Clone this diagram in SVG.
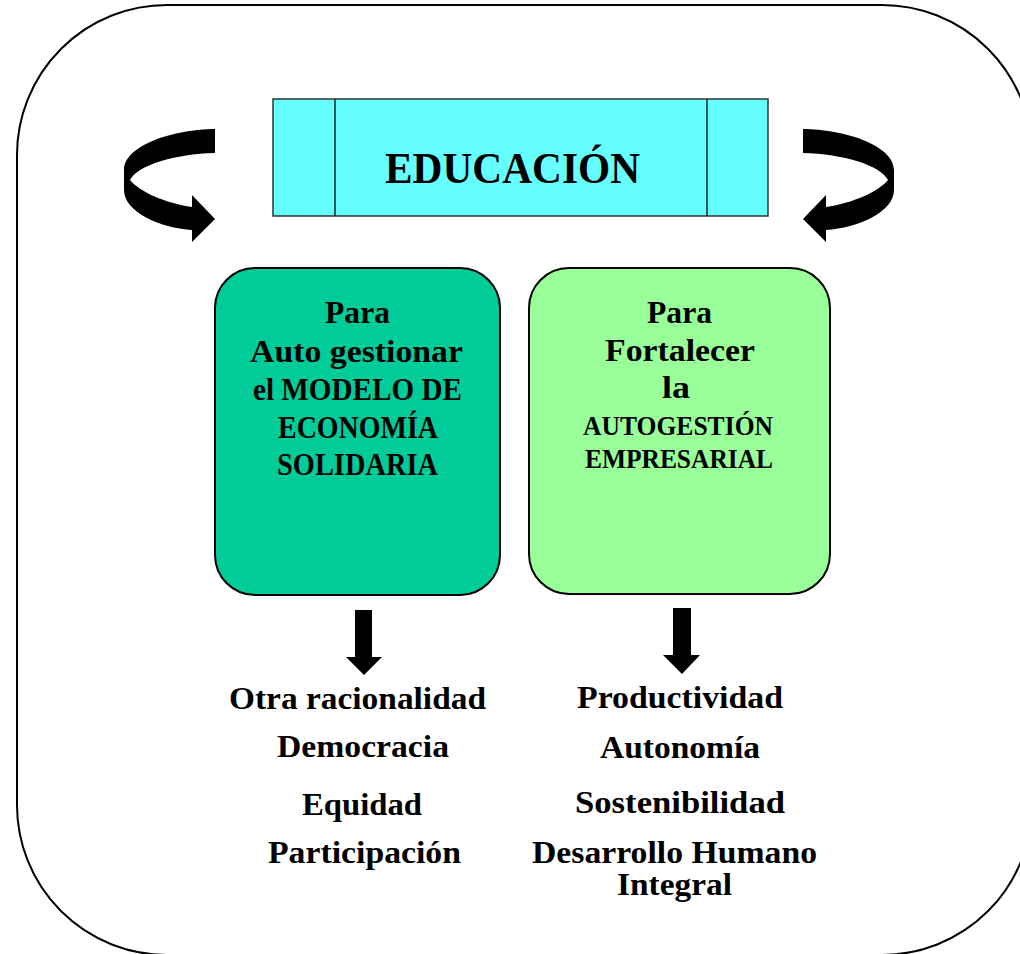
<svg xmlns="http://www.w3.org/2000/svg" width="1020" height="954" viewBox="0 0 1020 954">
<style>
.t{font-family:"Liberation Serif","Times New Roman",serif;font-weight:bold;fill:#000;text-anchor:middle}
.l{font-size:32px}
.b{font-size:31px}
.s{font-size:27px}
.box{stroke:#000;stroke-width:2}
.arr{fill:#000}
</style>
<rect width="1020" height="954" fill="#fff"/>
<g id="frame">
<rect x="17" y="5" width="1015" height="950" rx="150" ry="150" fill="none" stroke="#000" stroke-width="2"/>
</g>
<g id="educacion">
<rect x="273" y="99" width="495" height="117" fill="#66FFFF" stroke="#333" stroke-width="1.5"/>
<line x1="335" y1="99" x2="335" y2="216" stroke="#222" stroke-width="1.5"/>
<line x1="707" y1="99" x2="707" y2="216" stroke="#222" stroke-width="1.5"/>
<text class="t" x="512.5" y="183" font-size="45" textLength="255" lengthAdjust="spacingAndGlyphs">EDUCACIÓN</text>
</g>
<g id="box-left">
<rect class="box" x="215" y="268" width="285" height="327" rx="40" ry="40" fill="#00CC99"/>
<text class="t b" x="357.5" y="323" textLength="65" lengthAdjust="spacingAndGlyphs">Para</text>
<text class="t b" x="356.5" y="362" textLength="213" lengthAdjust="spacingAndGlyphs">Auto gestionar</text>
<text class="t b" x="357.5" y="400" textLength="209" lengthAdjust="spacingAndGlyphs">el MODELO DE</text>
<text class="t b" x="358" y="438" textLength="160" lengthAdjust="spacingAndGlyphs">ECONOMÍA</text>
<text class="t b" x="357.5" y="475" textLength="161" lengthAdjust="spacingAndGlyphs">SOLIDARIA</text>
</g>
<g id="box-right">
<rect class="box" x="529" y="268" width="301" height="326" rx="40" ry="40" fill="#99FF99"/>
<text class="t b" x="679.5" y="323" textLength="65" lengthAdjust="spacingAndGlyphs">Para</text>
<text class="t b" x="680" y="361" textLength="150" lengthAdjust="spacingAndGlyphs">Fortalecer</text>
<text class="t b" x="676" y="398" textLength="28" lengthAdjust="spacingAndGlyphs">la</text>
<text class="t s" x="678" y="435" textLength="190" lengthAdjust="spacingAndGlyphs">AUTOGESTIÓN</text>
<text class="t s" x="679" y="468" textLength="188" lengthAdjust="spacingAndGlyphs">EMPRESARIAL</text>
</g>
<g id="list-left">
<text class="t l" x="357.5" y="709" textLength="257" lengthAdjust="spacingAndGlyphs">Otra racionalidad</text>
<text class="t l" x="363" y="757" textLength="172" lengthAdjust="spacingAndGlyphs">Democracia</text>
<text class="t l" x="362" y="815" textLength="120" lengthAdjust="spacingAndGlyphs">Equidad</text>
<text class="t l" x="364.5" y="863" textLength="193" lengthAdjust="spacingAndGlyphs">Participación</text>
</g>
<g id="list-right">
<text class="t l" x="680" y="708" textLength="206" lengthAdjust="spacingAndGlyphs">Productividad</text>
<text class="t l" x="680" y="758" textLength="160" lengthAdjust="spacingAndGlyphs">Autonomía</text>
<text class="t l" x="680" y="813" textLength="210" lengthAdjust="spacingAndGlyphs">Sostenibilidad</text>
<text class="t l" x="674.5" y="863" textLength="285" lengthAdjust="spacingAndGlyphs">Desarrollo Humano</text>
<text class="t l" x="674.5" y="895" textLength="115" lengthAdjust="spacingAndGlyphs">Integral</text>
</g>
<g id="connectors">
<defs>
<path id="curl" d="M215,129 C175,129 124,145 124,170 L124,190 C124,212 160,228 192,230 L192,242 L215,219 L192,195 L192,207 C165,203 140,192 130,180 C138,165 175,154 215,153 Z"/>
</defs>
<use href="#curl" class="arr"/>
<use href="#curl" class="arr" transform="translate(1018,0) scale(-1,1)"/>
<path class="arr" d="M355,610 H372 V657 H382 L364,675 L346,657 H355 Z"/>
<path class="arr" d="M673,608 H691 V655 H700 L682,674 L663,655 H673 Z"/>
</g>
</svg>
